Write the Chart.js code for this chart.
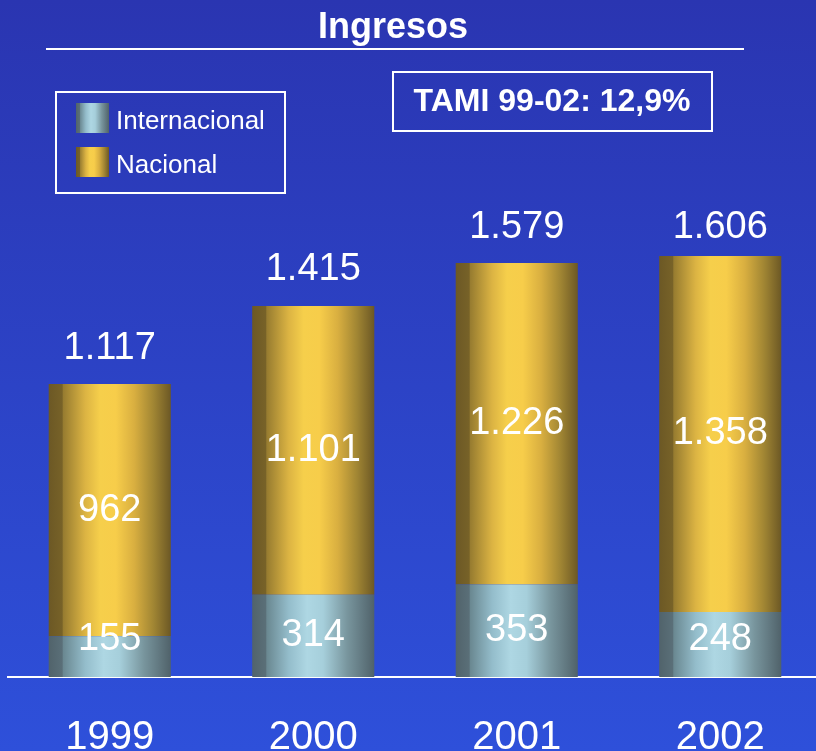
<!DOCTYPE html>
<html>
<head>
<meta charset="utf-8">
<script src="https://cdn.jsdelivr.net/npm/chart.js@4.4.1/dist/chart.umd.min.js"></script>
<style>
  html, body { margin: 0; padding: 0; overflow: hidden; background: #2c40c4; }
  canvas { display: block; }
</style>
</head>
<body>
<canvas id="myChart" width="822" height="751"></canvas>
<script>
const years = ['1999', '2000', '2001', '2002'];
const internacional = [155, 314, 353, 248];
const nacional = [962, 1101, 1226, 1358];
const totales = [1117, 1415, 1579, 1606];
const tituloTexto = 'Ingresos';
const tamiTexto = 'TAMI 99-02: 12,9%';

const font = '"Liberation Sans", Arial, sans-serif';

function fmt(n) {
    return String(n).replace(/\B(?=(\d{3})+(?!\d))/g, '.');
}

// cylinder look: horizontal gradient over each bar
const stopsNacional = [
    [0, '#6c5825'], [0.11, '#776228'], [0.12, '#977c30'], [0.3, '#dcb443'],
    [0.42, '#f6cf4b'], [0.55, '#f7cd4a'], [0.7, '#d9af40'], [0.86, '#a08533'], [1, '#6c5825']
];
const stopsInter = [
    [0, '#51636b'], [0.11, '#5a6f78'], [0.12, '#6a8891'], [0.3, '#94bdcb'],
    [0.45, '#aed7e3'], [0.58, '#a6cfdb'], [0.78, '#78959d'], [1, '#50626a']
];

function cylinder(stops) {
    return function (context) {
        const chart = context.chart;
        const area = chart.chartArea;
        if (!area || context.dataIndex === undefined) return stops[4][1];
        const xs = chart.scales.x;
        const cx = xs.getPixelForValue(context.dataIndex);
        const w = (area.right - area.left) / years.length * 0.6;
        const g = chart.ctx.createLinearGradient(cx - w / 2, 0, cx + w / 2, 0);
        stops.forEach(s => g.addColorStop(s[0], s[1]));
        return g;
    };
}

function swatch(ctx, x, y, w, h, stops) {
    const g = ctx.createLinearGradient(x, 0, x + w, 0);
    stops.forEach(s => g.addColorStop(s[0], s[1]));
    ctx.fillStyle = g;
    ctx.fillRect(x, y, w, h);
}

const fondo = {
    id: 'fondo',
    beforeDraw(chart) {
        const ctx = chart.ctx;
        const g = ctx.createLinearGradient(0, 0, 0, chart.height);
        g.addColorStop(0, '#2a35b1');
        g.addColorStop(1, '#2e50da');
        ctx.save();
        ctx.fillStyle = g;
        ctx.fillRect(0, 0, chart.width, chart.height);
        ctx.restore();
    }
};

const textos = {
    id: 'textos',
    afterDatasetsDraw(chart) {
        const ctx = chart.ctx;
        ctx.save();
        ctx.fillStyle = '#ffffff';
        ctx.textAlign = 'center';
        ctx.textBaseline = 'middle';
        ctx.font = '38px ' + font;

        const metaInt = chart.getDatasetMeta(0);
        const metaNac = chart.getDatasetMeta(1);
        metaInt.data.forEach((el, i) => {
            const mid = Math.min((el.y + el.base) / 2, el.base - 37);
            ctx.fillText(fmt(internacional[i]), el.x, mid);
        });
        metaNac.data.forEach((el, i) => {
            ctx.fillText(fmt(nacional[i]), el.x, (el.y + el.base) / 2);
            ctx.fillText(fmt(totales[i]), el.x, Math.max(el.y - 36, 228));
        });

        // title
        ctx.font = 'bold 36px ' + font;
        ctx.fillText(tituloTexto, 393, 28);
        ctx.strokeStyle = '#ffffff';
        ctx.lineWidth = 2;
        ctx.beginPath();
        ctx.moveTo(46, 49);
        ctx.lineTo(744, 49);
        ctx.stroke();

        // TAMI box
        ctx.strokeRect(393, 72, 319, 59);
        ctx.font = 'bold 32px ' + font;
        ctx.fillText(tamiTexto, 552, 102);

        // legend
        ctx.strokeRect(56, 92, 229, 101);
        swatch(ctx, 76, 103, 33, 30, stopsInter);
        swatch(ctx, 76, 147, 33, 30, stopsNacional);
        ctx.fillStyle = '#ffffff';
        ctx.textAlign = 'left';
        ctx.font = '26px ' + font;
        ctx.fillText('Internacional', 116, 122);
        ctx.fillText('Nacional', 116, 166);
        ctx.restore();
    }
};

new Chart(document.getElementById('myChart'), {
    type: 'bar',
    data: {
        labels: years,
        datasets: [
            {
                label: 'Internacional',
                data: internacional,
                backgroundColor: cylinder(stopsInter),
                borderWidth: 0,
            },
            {
                label: 'Nacional',
                data: nacional,
                backgroundColor: cylinder(stopsNacional),
                borderWidth: 0,
            },
        ],
    },
    options: {
        responsive: false,
        animation: false,
        layout: { padding: { left: 8, right: 0, top: 0, bottom: 0 } },
        datasets: { bar: { categoryPercentage: 0.6, barPercentage: 1 } },
        plugins: {
            legend: { display: false },
            tooltip: { enabled: false },
        },
        scales: {
            x: {
                stacked: true,
                grid: { display: false, drawTicks: true, tickLength: 48 },
                border: { display: true, color: '#ffffff', width: 2 },
                ticks: {
                    color: '#ffffff',
                    padding: 0,
                    font: { size: 40, family: font, lineHeight: 0.65 },
                },
            },
            y: {
                stacked: true,
                display: false,
                min: 0,
                max: 2582,
            },
        },
    },
    plugins: [fondo, textos],
});
</script>
</body>
</html>
